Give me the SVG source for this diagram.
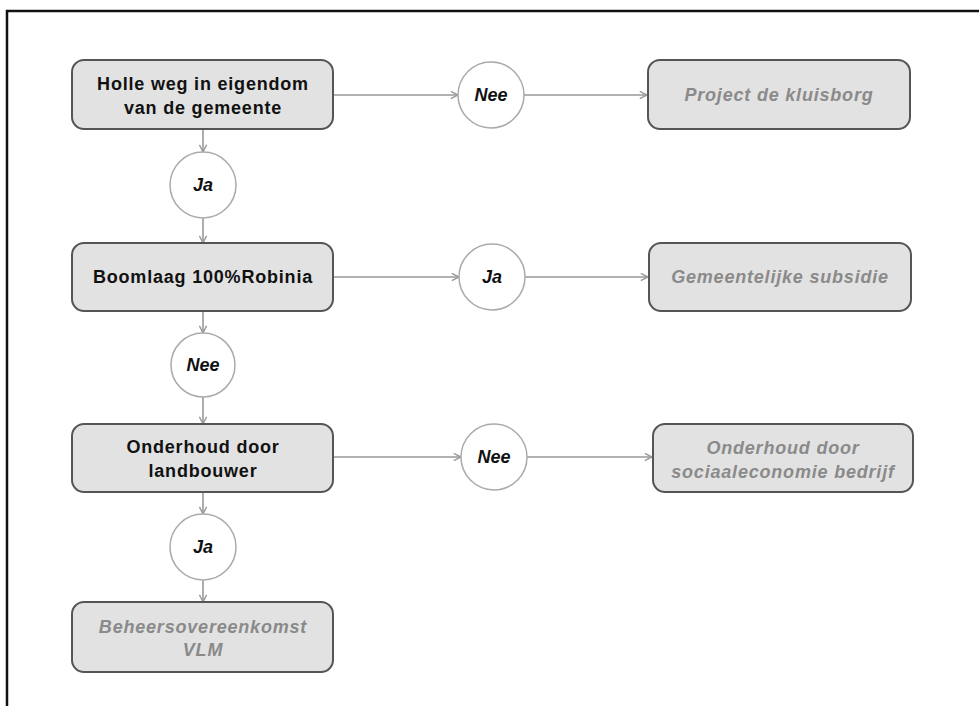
<svg xmlns="http://www.w3.org/2000/svg" width="979" height="706" viewBox="0 0 979 706">
<style>
.box{fill:#e2e2e2;stroke:#555;stroke-width:2}
.circ{fill:#fff;stroke:#aaa;stroke-width:1.5}
.main{font-family:"Liberation Sans",Arial,sans-serif;font-size:18px;letter-spacing:0.8px;font-weight:bold;fill:#111;text-anchor:middle}
.out{font-family:"Liberation Sans",Arial,sans-serif;font-size:18px;letter-spacing:0.8px;font-weight:bold;font-style:italic;fill:#8a8a8a;text-anchor:middle}
.lbl{font-family:"Liberation Sans",Arial,sans-serif;font-size:18px;font-weight:bold;font-style:italic;fill:#111;text-anchor:middle}
.conn{stroke:#999;stroke-width:1.6;fill:none;marker-end:url(#arr)}
</style>
<defs>
<marker id="arr" viewBox="0 0 10 10" refX="9" refY="5" markerWidth="9" markerHeight="9" markerUnits="userSpaceOnUse" orient="auto">
<path d="M1,1 L9,5 L1,9" fill="none" stroke="#999" stroke-width="1.6"/>
</marker>
</defs>
<rect width="979" height="706" fill="#fff"/>
<path d="M7,706 V11 H979" fill="none" stroke="#111" stroke-width="2.5"/>
<g id="connectors">
<line class="conn" x1="203" y1="129" x2="203" y2="152"/>
<line class="conn" x1="203" y1="218" x2="203" y2="243"/>
<line class="conn" x1="203" y1="311" x2="203" y2="333"/>
<line class="conn" x1="203" y1="397" x2="203" y2="424"/>
<line class="conn" x1="203" y1="492" x2="203" y2="514"/>
<line class="conn" x1="203" y1="580" x2="203" y2="602"/>
<line class="conn" x1="333" y1="95" x2="458" y2="95"/>
<line class="conn" x1="524" y1="95" x2="647" y2="95"/>
<line class="conn" x1="333" y1="277" x2="459" y2="277"/>
<line class="conn" x1="525" y1="277" x2="648" y2="277"/>
<line class="conn" x1="333" y1="457" x2="461" y2="457"/>
<line class="conn" x1="527" y1="457" x2="652" y2="457"/>
</g>
<g id="n1"><rect class="box" x="72" y="60" width="261" height="69" rx="12"/>
<text class="main" x="203" y="90">Holle weg in eigendom</text>
<text class="main" x="203" y="114">van de gemeente</text></g>
<g id="c1"><circle class="circ" cx="203" cy="185" r="33"/><text class="lbl" x="203" y="191">Ja</text></g>
<g id="n2"><rect class="box" x="72" y="243" width="261" height="68" rx="12"/>
<text class="main" x="203" y="283">Boomlaag 100%Robinia</text></g>
<g id="c2"><circle class="circ" cx="203" cy="365" r="32"/><text class="lbl" x="203" y="371">Nee</text></g>
<g id="n3"><rect class="box" x="72" y="424" width="261" height="68" rx="12"/>
<text class="main" x="203" y="453">Onderhoud door</text>
<text class="main" x="203" y="477">landbouwer</text></g>
<g id="c3"><circle class="circ" cx="203" cy="547" r="33"/><text class="lbl" x="203" y="553">Ja</text></g>
<g id="n4"><rect class="box" x="72" y="602" width="261" height="70" rx="12"/>
<text class="out" x="203" y="633">Beheersovereenkomst</text>
<text class="out" x="203" y="656">VLM</text></g>
<g id="c4"><circle class="circ" cx="491" cy="95" r="33"/><text class="lbl" x="491" y="101">Nee</text></g>
<g id="n5"><rect class="box" x="648" y="60" width="262" height="69" rx="12"/>
<text class="out" x="779" y="101">Project de kluisborg</text></g>
<g id="c5"><circle class="circ" cx="492" cy="277" r="33"/><text class="lbl" x="492" y="283">Ja</text></g>
<g id="n6"><rect class="box" x="649" y="243" width="262" height="68" rx="12"/>
<text class="out" x="780" y="283">Gemeentelijke subsidie</text></g>
<g id="c6"><circle class="circ" cx="494" cy="457" r="33"/><text class="lbl" x="494" y="463">Nee</text></g>
<g id="n7"><rect class="box" x="653" y="424" width="260" height="68" rx="12"/>
<text class="out" x="783" y="454">Onderhoud door</text>
<text class="out" x="783" y="478">sociaaleconomie bedrijf</text></g>
</svg>
